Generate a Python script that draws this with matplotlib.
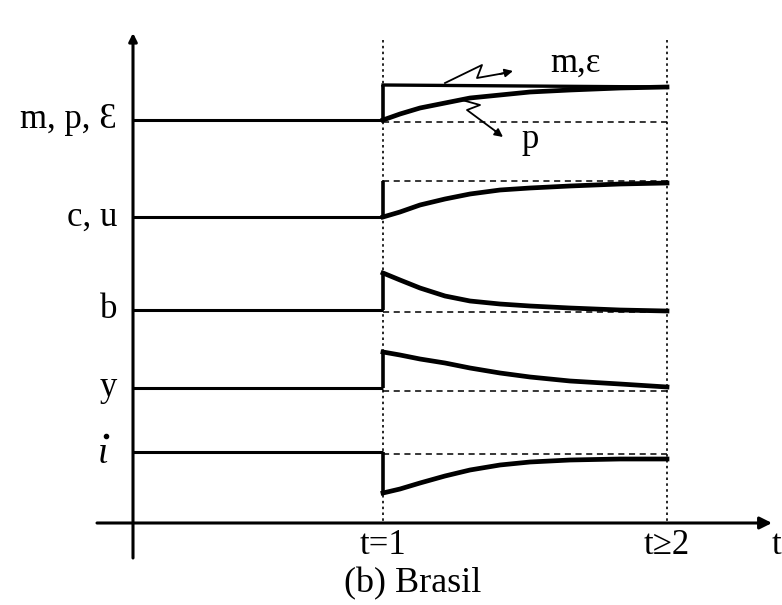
import numpy as np
import matplotlib.pyplot as plt

plt.rcParams['font.family'] = ['Liberation Serif', 'DejaVu Serif']

# time positions (picture units): shock at t=1, new steady state at t>=2
t_axis = 133
t_shock = 383
t_end = 667

# path of each variable after the shock (x, level)
curve_x = [383, 400, 420, 445, 470, 500, 530, 570, 620, 667]
p_path = [120, 114, 108, 103, 98, 95, 92, 90, 88, 87]
cu_path = [217, 212, 205, 199, 194, 190, 188, 186, 184, 183]
b_path = [273, 280, 288, 296, 301, 304, 306, 308, 310, 311]
y_path = [352, 355, 359, 363, 368, 373, 377, 381, 384, 387]
i_path = [493, 489, 483, 476, 470, 465, 462, 460, 459, 459]

# old steady state levels, jump levels and new steady state (dashed) levels
labels = ['m, p, Ɛ', 'c, u', 'b', 'y', 'i']
base_levels = [120, 217, 310, 388, 452]
jump_levels = [85, 181, 273, 352, 493]
dashed_levels = [122, 181, 312, 391, 454]
me_level_end = 87

fig = plt.figure(figsize=(7.82, 6.05), dpi=100)
ax = fig.add_axes([0, 0, 1, 1])
ax.set_xlim(0, 782)
ax.set_ylim(605, 0)
ax.axis('off')

# axes with arrows
ax.annotate('', xy=(772, 523), xytext=(97, 523),
            arrowprops=dict(arrowstyle='-|>', lw=2.2, color='black',
                            mutation_scale=18, shrinkA=0, shrinkB=0))
ax.annotate('', xy=(133, 33), xytext=(133, 558),
            arrowprops=dict(arrowstyle='-|>', lw=2.2, color='black',
                            mutation_scale=12, shrinkA=0, shrinkB=0))

# dotted time markers
for tx in [t_shock, t_end]:
    ax.plot([tx, tx], [40, 523], ls=(0, (1.5, 2)), color='black', lw=1.2)

paths = [p_path, cu_path, b_path, y_path, i_path]
for lab, base, jump, dash, path in zip(labels, base_levels, jump_levels,
                                       dashed_levels, paths):
    ax.plot([t_axis, t_shock], [base, base], color='black', lw=2.2,
            solid_capstyle='butt')
    ax.plot([t_shock, t_shock], [base, jump], color='black', lw=2.6,
            solid_capstyle='butt')
    ax.plot([t_shock, t_end], [dash, dash], color='black', lw=1.1,
            ls=(0, (4, 3)))
    ax.plot(curve_x, path, color='black', lw=3.4, solid_joinstyle='round')
    if lab == 'i':
        ax.text(108, base + 2, 'ι', fontsize=27, style='italic',
                ha='right', va='center')
        ax.plot([106], [base - 16], marker='o', ms=3, color='black')
    else:
        ax.text(117, base, lab, fontsize=25, ha='right', va='center')

# m, epsilon jumps and stays
ax.plot([t_shock, t_end], [jump_levels[0], me_level_end], color='black',
        lw=2.4)

# zigzag pointers
ax.plot([445, 482, 477, 505], [83, 65, 78, 73], color='black', lw=1.3)
ax.annotate('', xy=(513, 71), xytext=(500, 74),
            arrowprops=dict(arrowstyle='-|>', lw=1.3, color='black',
                            mutation_scale=12, shrinkA=0, shrinkB=0))
ax.plot([462, 480, 467, 498], [100, 105, 110, 133], color='black', lw=1.3)
ax.annotate('', xy=(503, 137), xytext=(495, 131),
            arrowprops=dict(arrowstyle='-|>', lw=1.3, color='black',
                            mutation_scale=12, shrinkA=0, shrinkB=0))
ax.text(575, 63, 'm,ε', fontsize=25, ha='center', va='center')
ax.text(530, 140, 'p', fontsize=25, ha='center', va='center')

# time labels
ax.text(t_shock, 546, 't=1', fontsize=25, ha='center', va='center')
ax.text(t_end, 546, 't≥2', fontsize=25, ha='center', va='center')
ax.text(777, 546, 't', fontsize=25, ha='center', va='center')
ax.text(413, 584, '(b) Brasil', fontsize=26, ha='center', va='center')

fig.savefig('out.png', dpi=100)
